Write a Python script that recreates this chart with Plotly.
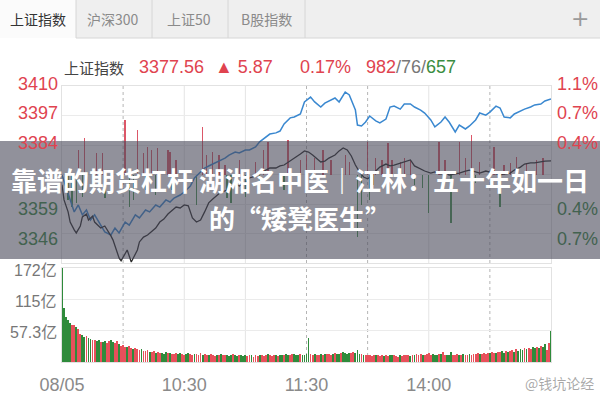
import plotly.graph_objects as go

# ---- quote header -------------------------------------------------------
PREV_CLOSE = 3371.69
LAST_PRICE = 3377.56
BREADTH = [982, 76, 657]          # up / flat / down

tabs = ["上证指数", "沪深300", "上证50", "B股指数"]
title_lines = ["靠谱的期货杠杆 湖湘名中医｜江林：五十年如一日", "的“矮凳医生”"]

# ---- intraday index (minute offset from 09:30, index level) --------------
price_min = [0, 1, 3, 4, 6, 7, 9, 10, 12, 13, 15, 16, 18, 19, 21, 22, 24, 25, 27, 28,
             29, 31, 32, 34, 35, 37, 38, 40, 42, 44, 46, 48, 50, 52, 54, 56, 58, 60, 62, 64,
             66, 68, 70, 72, 74, 76, 78, 80, 82, 85, 87, 90, 92, 95, 97, 100, 102, 105, 107, 109,
             112, 114, 117, 119, 121, 123, 125, 127, 129, 131, 134, 136, 138, 140, 142, 144, 146, 148, 150, 152,
             154, 156, 159, 161, 163, 166, 168, 171, 173, 176, 178, 181, 183, 186, 188, 190, 193, 195, 198, 200,
             203, 205, 208, 210, 213, 215, 217, 220, 222, 225, 227, 230, 232, 235, 237, 240]
price_val = [3367.2, 3360.7, 3355.5, 3351.1, 3347.7, 3346.4, 3349.4, 3353.3, 3354.6, 3352.0,
             3353.7, 3351.1, 3349.4, 3348.5, 3349.4, 3348.1, 3345.1, 3343.4, 3338.2, 3335.6,
             3334.3, 3337.3, 3339.0, 3333.8, 3335.6, 3339.0, 3342.5, 3344.6, 3345.5, 3347.2,
             3348.5, 3351.1, 3352.4, 3354.6, 3356.3, 3357.6, 3357.2, 3358.5, 3358.1, 3352.9,
             3351.1, 3352.0, 3355.5, 3359.4, 3361.1, 3362.8, 3364.1, 3364.6, 3365.4, 3367.6,
             3366.7, 3368.0, 3370.2, 3371.0, 3371.9, 3373.6, 3374.5, 3374.5, 3375.4, 3375.8,
             3377.5, 3378.8, 3380.6, 3381.9, 3381.4, 3380.1, 3378.8, 3377.1, 3377.5, 3378.8,
             3380.1, 3381.9, 3383.2, 3382.3, 3379.7, 3375.8, 3372.8, 3370.6, 3369.8, 3371.0,
             3373.2, 3374.9, 3376.2, 3375.4, 3375.8, 3376.7, 3377.1, 3378.0, 3375.4, 3374.1,
             3373.2, 3372.3, 3372.8, 3371.9, 3372.8, 3371.5, 3371.9, 3372.3, 3373.2, 3373.6,
             3372.8, 3372.3, 3373.2, 3372.8, 3371.9, 3371.5, 3371.9, 3372.3, 3373.6, 3374.9,
             3376.2, 3376.7, 3376.7, 3377.1, 3377.5, 3377.56]

# companion (blue) line on the same scale
blue_min = [0, 2, 4, 6, 8, 10, 12, 14, 16, 19, 21, 24, 26, 28, 31, 33, 36, 38, 41, 43,
            46, 48, 51, 53, 55, 58, 60, 63, 65, 68, 70, 73, 75, 78, 80, 82, 85, 87, 90, 92,
            95, 97, 100, 102, 105, 107, 109, 112, 114, 117, 119, 122, 124, 127, 129, 132, 134, 136, 139, 141,
            144, 145, 147, 149, 151, 154, 156, 159, 161, 163, 166, 168, 171, 173, 176, 178, 181, 183, 186, 188,
            190, 193, 195, 198, 200, 203, 205, 208, 210, 213, 215, 217, 220, 222, 225, 227, 230, 232, 235, 237, 240]
blue_val = [3371.5, 3365.9, 3360.7, 3355.5, 3358.5, 3354.2, 3356.3, 3352.0, 3354.2, 3349.8,
            3346.8, 3345.5, 3348.5, 3346.4, 3351.1, 3349.8, 3354.2, 3352.9, 3356.3, 3355.5,
            3358.5, 3357.6, 3360.7, 3359.8, 3361.5, 3362.8, 3364.1, 3366.7, 3370.2, 3372.8,
            3374.5, 3375.8, 3376.7, 3378.0, 3378.8, 3380.1, 3381.4, 3381.0, 3382.3, 3382.3,
            3383.6, 3385.8, 3387.9, 3389.2, 3389.7, 3390.5, 3393.6, 3396.2, 3396.6, 3397.9,
            3403.1, 3405.2, 3403.1, 3400.9, 3402.6, 3403.9, 3404.8, 3403.1, 3407.4, 3406.1,
            3399.6, 3393.1, 3392.7, 3394.4, 3397.0, 3394.9, 3394.0, 3395.7, 3400.9, 3401.3,
            3400.0, 3402.2, 3402.2, 3400.9, 3399.6, 3398.3, 3395.3, 3392.3, 3394.4, 3396.6,
            3394.4, 3390.1, 3393.1, 3391.4, 3392.7, 3395.3, 3398.3, 3397.4, 3398.7, 3401.3,
            3400.5, 3396.6, 3396.2, 3397.9, 3399.2, 3400.0, 3400.9, 3401.8, 3402.2, 3403.5,
            3404.4]

# buying / selling strength spikes around the previous close (index points)
up_min = [8, 11, 17, 20, 31, 37, 40, 42, 44, 47, 52, 53, 56, 69, 71, 74, 77, 80, 87, 95,
          99, 101, 111, 117, 120, 124, 128, 132, 139, 141, 150, 154, 157, 160, 162, 166, 168, 171, 185, 188,
          195, 198, 201, 205, 212, 217, 220, 223, 228, 233, 236]
up_h = [10.6, 15.8, 9.3, 9.3, 23.6, 19.3, 9.3, 11.9, 10.6, 11.5,
        10.6, 9.7, 6.3, 20.6, 8.4, 9.7, 8.4, 4.1, 6.3, 5.4,
        10.6, 14.1, 14.9, 6.3, 8.4, 7.1, 10.6, 6.3, 8.4, 5.4,
        14.1, 7.1, 6.3, 13.6, 6.3, 5.4, 7.1, 6.3, 14.1, 6.3,
        14.1, 7.1, 17.1, 5.4, 11.9, 4.1, 5.0, 7.6, 5.0, 6.3, 7.1]
down_min = [3, 5, 7, 10, 21, 33, 35, 41, 46, 54, 66, 81, 83, 90, 97, 109, 145, 147, 151, 153,
            173, 177, 180, 191, 203, 215, 222]
down_h = [-11.0, -14.1, -12.3, -9.7, -10.2, -14.1, -11.0, -6.7, -8.9, -6.7,
          -13.2, -10.2, -12.3, -9.7, -5.8, -6.7, -27.1, -13.2, -11.0, -4.5,
          -4.5, -5.8, -16.7, -21.0, -3.7, -14.1, -4.5]

# per-minute turnover (亿元) and bar direction (r = up, g = down)
volume = [172, 99, 82, 77, 71, 68, 68, 64, 60, 52,
          49, 46, 47, 44, 42, 40, 41, 38, 40, 37,
          36, 38, 35, 39, 40, 37, 35, 38, 33, 30,
          31, 28, 27, 29, 26, 24, 25, 23, 22, 24,
          21, 20, 22, 19, 18, 20, 17, 18, 16, 17,
          15, 18, 16, 17, 15, 14, 16, 15, 17, 14,
          13, 15, 16, 14, 13, 15, 14, 12, 16, 13,
          14, 12, 13, 15, 12, 11, 13, 12, 14, 13,
          12, 13, 11, 12, 14, 12, 11, 12, 13, 11,
          12, 11, 13, 12, 10, 12, 11, 13, 12, 11,
          12, 14, 12, 11, 13, 12, 11, 12, 13, 12,
          14, 12, 13, 15, 14, 13, 12, 14, 13, 12,
          15, 44, 14, 13, 14, 12, 13, 14, 13, 14,
          15, 14, 13, 15, 16, 14, 15, 17, 19, 16,
          15, 16, 17, 18, 16, 22, 15, 14, 13, 12,
          13, 12, 11, 12, 13, 12, 11, 12, 11, 12,
          11, 12, 13, 12, 11, 10, 12, 11, 12, 13,
          12, 11, 12, 13, 14, 12, 15, 13, 12, 14,
          17, 13, 14, 12, 13, 15, 14, 19, 13, 12,
          13, 18, 12, 13, 14, 12, 13, 14, 12, 13,
          14, 13, 15, 14, 16, 15, 14, 16, 15, 17,
          16, 18, 17, 16, 19, 18, 20, 17, 21, 19,
          20, 22, 19, 23, 21, 24, 22, 25, 23, 26,
          24, 27, 26, 28, 25, 30, 27, 33, 22, 35,
          57]
volume_dir = ("gggggrrgrr" "ggrggrrggr" "ggrrggrrgr" "rrgrrgrrrg" "rrrgrrgrrg"
              "ggrgrrrggr" "rggrrgrrrg" "rrgrrrgrgr" "rgggrggrgg" "grrgrrrgrr"
              "rgrrrgrggr" "ggrrgggrgg" "ggrrgrrgrg" "rrrgrggrgg" "ggrrgggrgr"
              "rrrrgrrrgr" "rggrrrgrrr" "rgrgrrrgrr" "rrgggrgrrg" "ggrrrgrgrr"
              "grrrrgrrrr" "grrgrrggrg" "rrgrgggrgr" "rggrgrggrr" "g")

# ---- axis labels ----------------------------------------------------------
STEP = 12.77                       # one grid interval of the price pane
price_labels = ["3410", "3397", "3384", "3359", "3346"]
pct_labels = ["1.1%", "0.7%", "0.4%", "0.4%", "0.7%"]
label_steps = [3, 2, 1, -1, -2]
vol_labels = ["172亿", "115亿", "57.3亿"]
vol_levels = [172, 114.67, 57.33]
time_ticks = [0, 60, 120, 180]
time_labels = ["08/05", "10:30", "11:30", "14:00"]
grid_minutes = [30, 60, 90, 120, 150, 180, 210]
grid_dotted = [True, False, False, True, True, False, True]

RED = "#e0434f"
GREEN = "#3a8c40"
NARROW = "Liberation Sans Narrow, Liberation Sans, Arial, sans-serif"
CJK = "Noto Sans CJK SC, sans-serif"

W, H = 600, 400


def px(x):
    return x / W


def py(y):
    return 1 - y / H


fig = go.Figure()

# strength spikes
fig.add_trace(go.Bar(x=up_min, y=up_h, base=PREV_CLOSE, width=0.7,
                     marker=dict(color="rgba(214,58,78,0.85)", line_width=0),
                     xaxis="x", yaxis="y", hoverinfo="skip"))
fig.add_trace(go.Bar(x=down_min, y=down_h, base=PREV_CLOSE, width=0.7,
                     marker=dict(color="rgba(52,138,62,0.9)", line_width=0),
                     xaxis="x", yaxis="y", hoverinfo="skip"))

# index lines
fig.add_trace(go.Scatter(x=blue_min, y=blue_val, mode="lines",
                         line=dict(color="#3a88d0", width=1.5), xaxis="x", yaxis="y"))
fig.add_trace(go.Scatter(x=price_min, y=price_val, mode="lines",
                         line=dict(color="#2a2a2a", width=1.3), xaxis="x", yaxis="y"))

# turnover bars
for flag, color in (("r", "#e8505b"), ("g", "#2f8b3b")):
    idx = [i for i, d in enumerate(volume_dir) if d == flag]
    fig.add_trace(go.Bar(x=idx, y=[volume[i] for i in idx], width=0.42,
                         marker=dict(color=color, line_width=0),
                         xaxis="x2", yaxis="y2", hoverinfo="skip"))

shapes = []
# tab bar
shapes.append(dict(type="rect", xref="paper", yref="paper", x0=0, x1=1, y0=py(38), y1=1,
                   fillcolor="#efefef", line_width=0, layer="below"))
shapes.append(dict(type="rect", xref="paper", yref="paper", x0=0, x1=px(76), y0=py(38), y1=1,
                   fillcolor="#fbfbfb", line_width=0, layer="below"))
for sx in (76, 152, 228, 305):
    shapes.append(dict(type="line", xref="paper", yref="paper", x0=px(sx), x1=px(sx),
                       y0=py(38), y1=1, line=dict(color="#d6d6d6", width=1)))
shapes.append(dict(type="line", xref="paper", yref="paper", x0=px(76), x1=1,
                   y0=py(38), y1=py(38), line=dict(color="#d6d6d6", width=1)))

# vertical time grid in both panes
for m, dotted in zip(grid_minutes, grid_dotted):
    for yref in ("y domain", "y2 domain"):
        shapes.append(dict(type="line", xref="x", yref=yref, x0=m, x1=m, y0=0, y1=1,
                           layer="below",
                           line=dict(color="#b5b5b5" if dotted else "#e4e4e4",
                                     width=1, dash="dot" if dotted else "solid")))

# headline banner
shapes.append(dict(type="rect", xref="paper", yref="paper", x0=0, x1=1,
                   y0=py(259), y1=py(141), fillcolor="rgba(72,72,88,0.6)",
                   line_width=0, layer="above"))

ann = []
tab_x = [38, 113, 189, 266]
for i, (t, tx) in enumerate(zip(tabs, tab_x)):
    ann.append(dict(text=t, x=px(tx), y=py(19), xref="paper", yref="paper",
                    showarrow=False, xanchor="center", yanchor="middle",
                    font=dict(family=CJK, size=14, color="#333333" if i == 0 else "#8a8a8a")))
ann.append(dict(text="+", x=px(580), y=py(19), xref="paper", yref="paper", showarrow=False,
                xanchor="center", yanchor="middle",
                font=dict(family="DejaVu Sans", size=22, color="#9a9a9a")))

# quote header
change = LAST_PRICE - PREV_CLOSE
header = [
    (62, "上证指数", CJK, 15, "#444444"),
    (137, f"{LAST_PRICE:.2f}", NARROW, 18, RED),
    (213, f"▲ {change:.2f}", NARROW, 18, RED),
    (298, f"{change / PREV_CLOSE * 100:.2f}%", NARROW, 18, RED),
    (364, f"<span style='color:{RED}'>{BREADTH[0]}</span>"
          f"<span style='color:#777777'>/{BREADTH[1]}/</span>"
          f"<span style='color:{GREEN}'>{BREADTH[2]}</span>", NARROW, 18, RED),
]
for hx, txt, fam, size, col in header:
    ann.append(dict(text=txt, x=px(hx), y=py(67), xref="paper", yref="paper",
                    showarrow=False, xanchor="left", yanchor="middle",
                    font=dict(family=fam, size=size, color=col)))

# price / percent labels on both sides of the price pane
for lab, pct, k in zip(price_labels, pct_labels, label_steps):
    level = PREV_CLOSE + k * STEP
    if k > 0:
        col, shift = RED, 2
    else:
        col, shift = "#42624f", -5          # seen through the banner
    ann.append(dict(text=lab, x=px(60), y=level, xref="paper", yref="y", yshift=shift,
                    showarrow=False, xanchor="right", yanchor="middle",
                    font=dict(family=NARROW, size=18, color=col)))
    ann.append(dict(text=pct, x=px(555), y=level, xref="paper", yref="y", yshift=shift,
                    showarrow=False, xanchor="left", yanchor="middle",
                    font=dict(family=NARROW, size=18, color=col)))

for lab, lv in zip(vol_labels, vol_levels):
    ann.append(dict(text=lab, x=px(59), y=lv, xref="paper", yref="y2", yshift=-2,
                    showarrow=False, xanchor="right", yanchor="middle",
                    font=dict(family=NARROW + ", " + CJK, size=16, color="#777777")))

# headline text
for line, ty in zip(title_lines, (180, 217)):
    ann.append(dict(text=line, x=0.5, y=py(ty), xref="paper", yref="paper",
                    showarrow=False, xanchor="center", yanchor="middle",
                    font=dict(family=CJK, size=26, color="white", weight="bold")))

ann.append(dict(text="@钱坑论经", x=px(596), y=py(383), xref="paper", yref="paper",
                showarrow=False, xanchor="right", yanchor="middle",
                font=dict(family=CJK, size=14, color="rgba(140,140,140,0.75)")))

frame = dict(showline=True, mirror=True, linecolor="#e2e2e2", linewidth=1,
             zeroline=False, automargin=False)
fig.update_layout(
    width=W, height=H, autosize=False,
    margin=dict(l=0, r=0, t=0, b=0, pad=0, autoexpand=False),
    paper_bgcolor="white", plot_bgcolor="white",
    showlegend=False, barmode="overlay", bargap=0,
    xaxis=dict(domain=[px(62), px(551)], range=[0, 240], anchor="y",
               showticklabels=False, showgrid=False, ticks="", **frame),
    yaxis=dict(domain=[py(263), py(86)],
               range=[PREV_CLOSE - 3 * STEP, PREV_CLOSE + 3 * STEP],
               tickvals=[PREV_CLOSE + k * STEP for k in range(-3, 4)],
               showticklabels=False, showgrid=True, gridcolor="#ebebeb", ticks="", **frame),
    xaxis2=dict(domain=[px(62), px(551)], range=[0, 240], anchor="y2",
                tickvals=time_ticks, ticktext=time_labels, ticks="",
                ticklabelstandoff=6,
                tickfont=dict(family=NARROW, size=18, color="#8a8a8a"),
                showgrid=False, **frame),
    yaxis2=dict(domain=[py(362), py(268)], range=[0, 172],
                tickvals=[0, 57.33, 114.67, 172], showticklabels=False,
                showgrid=True, gridcolor="#ebebeb", ticks="", **frame),
    shapes=shapes,
    annotations=ann,
)

fig.write_html("out.html")
